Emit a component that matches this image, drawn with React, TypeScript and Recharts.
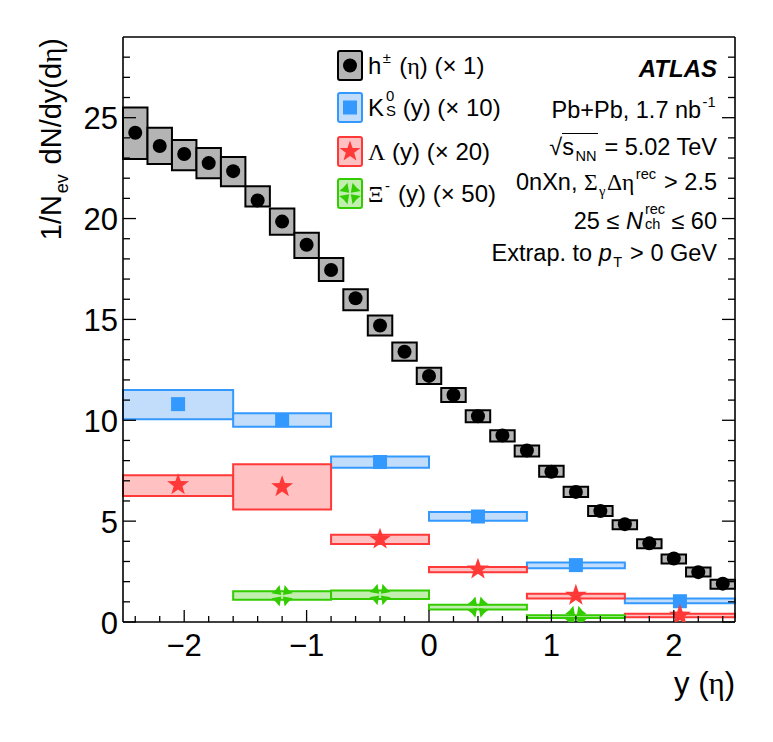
import React from 'react';
import { ComposedChart, Scatter, XAxis, YAxis, ReferenceArea } from 'recharts';

// h+- vs eta, 0.2 wide bins
const ETA = [-2.4, -2.2, -2.0, -1.8, -1.6, -1.4, -1.2, -1.0, -0.8, -0.6, -0.4, -0.2, 0.0, 0.2, 0.4, 0.6, 0.8, 1.0, 1.2, 1.4, 1.6, 1.8, 2.0, 2.2, 2.4];
const H_VAL = [24.25, 23.6, 23.2, 22.75, 22.35, 20.9, 19.85, 18.7, 17.45, 16.05, 14.7, 13.4, 12.2, 11.25, 10.2, 9.25, 8.5, 7.45, 6.45, 5.5, 4.85, 3.9, 3.15, 2.47, 1.9];
const H_LO = [22.95, 22.7, 22.4, 22.0, 21.6, 20.6, 19.2, 18.05, 16.9, 15.45, 14.2, 12.95, 11.8, 10.9, 9.9, 8.95, 8.2, 7.2, 6.2, 5.25, 4.6, 3.65, 2.9, 2.25, 1.65];
const H_HI = [25.5, 24.5, 23.9, 23.5, 23.05, 21.6, 20.5, 19.3, 18.05, 16.5, 15.2, 13.85, 12.6, 11.6, 10.5, 9.5, 8.75, 7.75, 6.7, 5.75, 5.05, 4.1, 3.35, 2.7, 2.1];

// strange hadrons, rapidity bins
const Y_LO = [-2.5, -1.6, -0.8, 0.0, 0.8, 1.6];
const Y_HI = [-1.6, -0.8, 0.0, 0.8, 1.6, 2.5];
const Y_MID = [-2.05, -1.2, -0.4, 0.4, 1.2, 2.05];

const K0_VAL = [10.8, 10.0, 7.93, 5.23, 2.82, 1.03];
const K0_LO = [10.05, 9.68, 7.65, 5.02, 2.67, 0.93];
const K0_HI = [11.5, 10.35, 8.2, 5.45, 2.95, 1.16];

const LAM_VAL = [6.8, 6.7, 4.1, 2.62, 1.32, 0.33];
const LAM_LO = [6.25, 5.58, 3.87, 2.47, 1.17, 0.24];
const LAM_HI = [7.27, 7.82, 4.32, 2.73, 1.4, 0.41];

// Xi only in the four central bins
const XI_BIN = [1, 2, 3, 4];
const XI_VAL = [1.3, 1.36, 0.74, 0.27];
const XI_LO = [1.1, 1.14, 0.62, 0.2];
const XI_HI = [1.52, 1.56, 0.86, 0.34];

const X_TICKS = [-2.4, -2.2, -2, -1.8, -1.6, -1.4, -1.2, -1, -0.8, -0.6, -0.4, -0.2, 0, 0.2, 0.4, 0.6, 0.8, 1, 1.2, 1.4, 1.6, 1.8, 2, 2.2, 2.4];
const Y_TICKS = [0, 1, 2, 3, 4, 5, 6, 7, 8, 9, 10, 11, 12, 13, 14, 15, 16, 17, 18, 19, 20, 21, 22, 23, 24, 25, 26, 27, 28];

const SANS = "'Liberation Sans', Arial, Helvetica, sans-serif";
const SERIF = "'Liberation Serif', 'DejaVu Serif', serif";

const GREY = '#b4b4b4';
const BLUE = '#3399ff';
const BLUE_F = '#c2ddfb';
const RED = '#ff3838';
const RED_F = '#ffc1c1';
const GREEN = '#33cc00';
const GREEN_F = '#c2efb0';

const hPts = ETA.map((x, i) => ({ x, y: H_VAL[i] }));
const k0Pts = Y_MID.map((x, i) => ({ x, y: K0_VAL[i] }));
const lamPts = Y_MID.map((x, i) => ({ x, y: LAM_VAL[i] }));
const xiPts = XI_BIN.map((b, i) => ({ x: Y_MID[b], y: XI_VAL[i] }));

function starPath(cx: number, cy: number, R: number, r: number) {
  let d = '';
  for (let k = 0; k < 10; k++) {
    const a = -Math.PI / 2 + (k * Math.PI) / 5;
    const rr = k % 2 === 0 ? R : r;
    d += (k === 0 ? 'M' : 'L') + (cx + rr * Math.cos(a)).toFixed(2) + ',' + (cy + rr * Math.sin(a)).toFixed(2);
  }
  return d + 'Z';
}

// four wedges along the diagonals, tips at the centre
function xiPath(cx: number, cy: number, R: number) {
  let d = '';
  for (let k = 0; k < 4; k++) {
    const t = Math.PI / 4 + (k * Math.PI) / 2;
    const w = 0.55;
    d += `M${(cx + 1.2 * Math.cos(t)).toFixed(2)},${(cy + 1.2 * Math.sin(t)).toFixed(2)}`;
    d += `L${(cx + R * Math.cos(t - w)).toFixed(2)},${(cy + R * Math.sin(t - w)).toFixed(2)}`;
    d += `L${(cx + 0.8 * R * Math.cos(t)).toFixed(2)},${(cy + 0.8 * R * Math.sin(t)).toFixed(2)}`;
    d += `L${(cx + R * Math.cos(t + w)).toFixed(2)},${(cy + R * Math.sin(t + w)).toFixed(2)}Z`;
  }
  return d;
}

const DotShape = (p: any) => <circle cx={p.cx} cy={p.cy} r={7} fill="#000" />;
const SquareShape = (p: any) => <rect x={p.cx - 7} y={p.cy - 7} width={14} height={14} fill={BLUE} />;
const StarShape = (p: any) => <path d={starPath(p.cx, p.cy, 11.5, 4.6)} fill={RED} />;
const XiShape = (p: any) => <path d={xiPath(p.cx, p.cy, 11)} fill={GREEN} />;

const fmt = (v: number) => (v < 0 ? `\u2212${Math.abs(v)}` : `${v}`);
const isMajorX = (v: number) => Math.abs(v - Math.round(v)) < 1e-6;

function XTick(props: any) {
  const { x, y, payload, side } = props;
  const v = payload.value;
  const major = isMajorX(v);
  const len = major ? 12 : 6;
  const dir = side === 'bottom' ? -1 : 1;
  return (
    <g>
      <line x1={x} y1={y} x2={x} y2={y + dir * len} stroke="#000" strokeWidth={1.3} />
      {side === 'bottom' && major && (
        <text x={x} y={y + 23} textAnchor="middle" dominantBaseline="central" fontSize={31} fontFamily={SANS} fill="#000">
          {fmt(v)}
        </text>
      )}
    </g>
  );
}

function YTick(props: any) {
  const { x, y, payload, side } = props;
  const v = payload.value;
  const major = v % 5 === 0;
  const len = major ? 13 : 7;
  const dir = side === 'left' ? 1 : -1;
  return (
    <g>
      <line x1={x} y1={y} x2={x + dir * len} y2={y} stroke="#000" strokeWidth={1.3} />
      {side === 'left' && major && (
        <text x={x - 5} y={y + 1} textAnchor="end" dominantBaseline="central" fontSize={31} fontFamily={SANS} fill="#000">
          {v}
        </text>
      )}
    </g>
  );
}

const AXIS = { stroke: '#000', strokeWidth: 1.6 };

function LegendBox({ fill, stroke, shape }: { fill: string; stroke: string; shape: string }) {
  return (
    <svg width={26} height={31} style={{ position: 'absolute', left: 0, top: 0 }}>
      <rect x={1} y={1} width={24} height={29} rx={2} fill={fill} stroke={stroke} strokeWidth={2} />
      {shape === 'dot' && <circle cx={13} cy={15.5} r={7} fill="#000" />}
      {shape === 'sq' && <rect x={6} y={8.5} width={14} height={14} fill={BLUE} />}
      {shape === 'star' && <path d={starPath(13, 15.5, 11, 4.4)} fill={RED} />}
      {shape === 'xi' && <path d={xiPath(13, 15.5, 11)} fill={GREEN} />}
    </svg>
  );
}

const Gk = ({ children }: { children: React.ReactNode }) => <span style={{ fontFamily: SERIF }}>{children}</span>;
const Sup = ({ children }: { children: React.ReactNode }) => (
  <span style={{ fontSize: '0.62em', position: 'relative', top: '-0.75em', lineHeight: 1, margin: '0 0.1em' }}>{children}</span>
);
const Sub = ({ children }: { children: React.ReactNode }) => (
  <span style={{ fontSize: '0.62em', position: 'relative', top: '0.4em', lineHeight: 1, margin: '0 0.1em' }}>{children}</span>
);
const SupSub = ({ sup, sub, w }: { sup: string; sub: string; w: number }) => (
  <span style={{ display: 'inline-block', position: 'relative', width: w, height: '1em' }}>
    <span style={{ position: 'absolute', left: 2, top: '-0.2em', fontSize: '0.62em', lineHeight: 1 }}>{sup}</span>
    <span style={{ position: 'absolute', left: 2, top: '0.8em', fontSize: '0.62em', lineHeight: 1 }}>{sub}</span>
  </span>
);

function LegendRow({ top, fill, stroke, shape, children }: any) {
  return (
    <div style={{ position: 'absolute', left: 337, top, height: 31 }}>
      <LegendBox fill={fill} stroke={stroke} shape={shape} />
      <div style={{ position: 'absolute', left: 31, top: 0, height: 31, lineHeight: '31px', fontSize: 24, whiteSpace: 'nowrap' }}>
        {children}
      </div>
    </div>
  );
}

function Note({ cy, children, style }: any) {
  return (
    <div style={{ position: 'absolute', right: 56, top: cy - 15, height: 30, lineHeight: '30px', fontSize: 23.5, whiteSpace: 'nowrap', ...style }}>
      {children}
    </div>
  );
}

export default function App() {
  return (
    <div style={{ position: 'absolute', left: 0, top: 0, width: 773, height: 742, background: '#fff', fontFamily: SANS, color: '#000' }}>
      <ComposedChart width={773} height={742} margin={{ top: 36, right: 37, bottom: 90, left: 63 }}>
        <XAxis dataKey="x" type="number" domain={[-2.5, 2.5]} ticks={X_TICKS} interval={0} height={30} tickSize={0} tickMargin={0} tickLine={false} axisLine={AXIS} allowDataOverflow tick={(p: any) => <XTick {...p} side="bottom" />} />
        <XAxis xAxisId="top" orientation="top" type="number" domain={[-2.5, 2.5]} ticks={X_TICKS} interval={0} height={1} tickSize={0} tickMargin={0} tickLine={false} axisLine={AXIS} allowDataOverflow tick={(p: any) => <XTick {...p} side="top" />} />
        <YAxis type="number" domain={[0, 29]} ticks={Y_TICKS} interval={0} width={60} tickSize={0} tickMargin={0} tickLine={false} axisLine={AXIS} allowDataOverflow tick={(p: any) => <YTick {...p} side="left" />} />
        <YAxis yAxisId="right" orientation="right" type="number" domain={[0, 29]} ticks={Y_TICKS} interval={0} width={1} tickSize={0} tickMargin={0} tickLine={false} axisLine={AXIS} allowDataOverflow tick={(p: any) => <YTick {...p} side="right" />} />

        {ETA.map((x, i) => (
          <ReferenceArea key={`h${i}`} x1={x - 0.1} x2={x + 0.1} y1={H_LO[i]} y2={H_HI[i]} fill={GREY} fillOpacity={1} stroke="#000" strokeWidth={2} ifOverflow="visible" />
        ))}
        {Y_MID.map((_, i) => (
          <ReferenceArea key={`k${i}`} x1={Y_LO[i]} x2={Y_HI[i]} y1={K0_LO[i]} y2={K0_HI[i]} fill={BLUE_F} fillOpacity={1} stroke={BLUE} strokeWidth={2} ifOverflow="visible" />
        ))}
        {Y_MID.map((_, i) => (
          <ReferenceArea key={`l${i}`} x1={Y_LO[i]} x2={Y_HI[i]} y1={LAM_LO[i]} y2={LAM_HI[i]} fill={RED_F} fillOpacity={1} stroke={RED} strokeWidth={2} ifOverflow="visible" />
        ))}
        {XI_BIN.map((b, i) => (
          <ReferenceArea key={`x${i}`} x1={Y_LO[b]} x2={Y_HI[b]} y1={XI_LO[i]} y2={XI_HI[i]} fill={GREEN_F} fillOpacity={1} stroke={GREEN} strokeWidth={2} ifOverflow="visible" />
        ))}

        <Scatter data={hPts} dataKey="y" shape={DotShape} isAnimationActive={false} />
        <Scatter data={k0Pts} dataKey="y" shape={SquareShape} isAnimationActive={false} />
        <Scatter data={lamPts} dataKey="y" shape={StarShape} isAnimationActive={false} />
        <Scatter data={xiPts} dataKey="y" shape={XiShape} isAnimationActive={false} />
      </ComposedChart>

      {/* y axis title, right-aligned to the top of the frame */}
      <div style={{ position: 'absolute', left: 34, top: 338, width: 300, transformOrigin: '0 0', transform: 'rotate(-90deg)', textAlign: 'right', fontSize: 29, lineHeight: '34px', whiteSpace: 'nowrap' }}>
        1/N<Sub>ev</Sub> dN/dy(d<Gk>η</Gk>)
      </div>
      {/* x axis title */}
      <div style={{ position: 'absolute', right: 38, top: 667, fontSize: 31, lineHeight: '34px', whiteSpace: 'nowrap' }}>
        y (<Gk>η</Gk>)
      </div>

      <LegendRow top={50} fill={GREY} stroke="#000" shape="dot">
        h<Sup>±</Sup> (<Gk>η</Gk>) (× 1)
      </LegendRow>
      <LegendRow top={92} fill={BLUE_F} stroke={BLUE} shape="sq">
        K<SupSub sup="0" sub="S" w={12} /> (y) (× 10)
      </LegendRow>
      <LegendRow top={136} fill={RED_F} stroke={RED} shape="star">
        <Gk>Λ</Gk> (y) (× 20)
      </LegendRow>
      <LegendRow top={178} fill={GREEN_F} stroke={GREEN} shape="xi">
        <Gk>Ξ</Gk><Sup>-</Sup> (y) (× 50)
      </LegendRow>

      <Note cy={69} style={{ fontWeight: 'bold', fontStyle: 'italic', fontSize: 24 }}>ATLAS</Note>
      <Note cy={110}>
        Pb+Pb, 1.7 nb<Sup>-1</Sup>
      </Note>
      <Note cy={147}>
        √<span style={{ borderTop: '1.5px solid #000' }}>s<Sub>NN</Sub></span> = 5.02 TeV
      </Note>
      <Note cy={182}>
        0nXn, <Gk>Σ</Gk><Sub><Gk>γ</Gk></Sub><Gk>Δη</Gk><Sup>rec</Sup> &gt; 2.5
      </Note>
      <Note cy={220}>
        25 ≤ <i>N</i><SupSub sup="rec" sub="ch" w={22} /> ≤ 60
      </Note>
      <Note cy={253}>
        Extrap. to <i>p</i><Sub>T</Sub> &gt; 0 GeV
      </Note>
    </div>
  );
}
